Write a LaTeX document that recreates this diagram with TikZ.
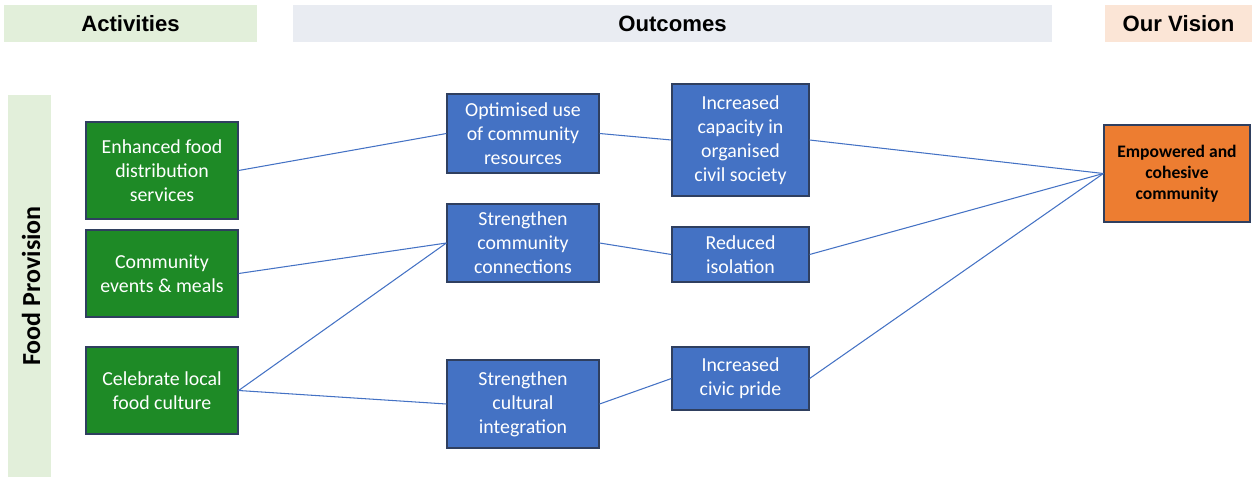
\documentclass[tikz,border=0pt]{standalone}
\usepackage{fontspec}
\setmainfont{Carlito}
\newfontfamily\headfont{Liberation Sans}
\definecolor{actgreen}{HTML}{1E8A26}
\definecolor{outblue}{HTML}{4472C4}
\definecolor{visorange}{HTML}{ED7D31}
\definecolor{boxline}{HTML}{2F3F5F}
\definecolor{headgreen}{HTML}{E2EFDA}
\definecolor{headgrey}{HTML}{E9ECF2}
\definecolor{headpeach}{HTML}{FBE5D6}
\usetikzlibrary{calc}

\begin{document}
\begin{tikzpicture}[x=0.02cm, y=-0.02cm,
  header/.style={fill=#1, inner sep=0pt, minimum height=0.74cm,
    font=\headfont\bfseries\fontsize{12.6}{14}\selectfont},
  box/.style={draw=boxline, line width=0.7pt, inner sep=1pt, align=center,
    text=white, font=\fontsize{11.3}{13.6}\selectfont},
  actbox/.style={box, fill=actgreen, minimum width=3.04cm},
  outbox/.style={box, fill=outblue, minimum width=3.04cm},
  resbox/.style={box, fill=outblue, minimum width=2.74cm},
  link/.style={draw=outblue, line width=0.6pt}]

\useasboundingbox (0,0) rectangle (1252,477);

% headers

\node[header=headgreen, minimum width=5.06cm] (hact) at (130.5, 23.5) {Activities};
\node[header=headgrey, minimum width=15.18cm] (hout) at (672.5, 23.5) {Outcomes};
\node[header=headpeach, minimum width=2.94cm] (hvis) at (1178.5, 23.5) {Our Vision};

\node[fill=headgreen, minimum width=0.86cm, minimum height=7.64cm, inner sep=0pt] (band) at (29.5, 286) {};
\node[rotate=90, font=\bfseries\fontsize{14.8}{16}\selectfont] (bandtext) at (31, 286) {Food Provision};

% activities

\node[actbox, minimum height=1.94cm] (enhanced) at (162, 170.5) {Enhanced food\\distribution\\services};
\node[actbox, minimum height=1.74cm] (events) at (162, 273.5) {Community\\events \& meals};
\node[actbox, minimum height=1.74cm] (culture) at (162, 390.5) {Celebrate local\\food culture};

% outcomes

\node[outbox, minimum height=1.58cm] (resources) at (523, 133.5) {Optimised use\\of community\\resources};
\node[outbox, minimum height=1.56cm] (connect) at (523, 243) {Strengthen\\community\\connections};
\node[outbox, minimum height=1.76cm] (integrate) at (523, 404) {Strengthen\\cultural\\integration};

\node[resbox, minimum height=2.24cm] (capacity) at (740.5, 140) {Increased\\capacity in\\organised\\civil society};
\node[resbox, minimum height=1.10cm] (isolation) at (740.5, 254.5) {Reduced\\isolation};
\node[resbox, minimum height=1.26cm] (pride) at (740.5, 378.5) {Increased\\civic pride};

% vision

\node[box, fill=visorange, text=black, minimum width=2.92cm, minimum height=1.94cm,
  font=\bfseries\fontsize{10}{12}\selectfont] (vision) at (1177, 173.5) {Empowered and\\cohesive\\community};

% edges

\draw[link] (enhanced.east) -- (resources.west);
\draw[link] (events.east) -- (connect.west);
\draw[link] (culture.east) -- (connect.west);
\draw[link] (culture.east) -- (integrate.west);

\draw[link] (resources.east) -- (capacity.west);
\draw[link] (connect.east) -- (isolation.west);
\draw[link] (integrate.east) -- (pride.west);

\draw[link] (capacity.east) -- (vision.west);
\draw[link] (isolation.east) -- (vision.west);
\draw[link] (pride.east) -- (vision.west);

\end{tikzpicture}
\end{document}
